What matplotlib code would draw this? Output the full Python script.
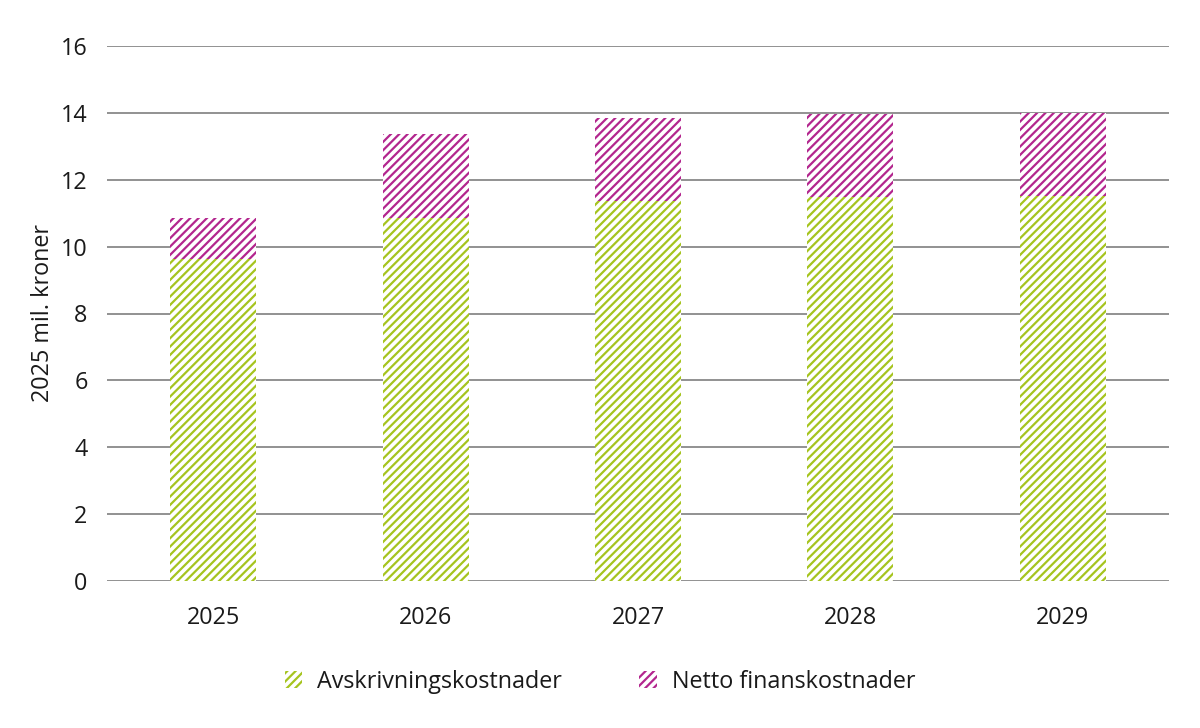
import matplotlib
matplotlib.use("Agg")
import matplotlib.pyplot as plt
import numpy as np

years = ["2025", "2026", "2027", "2028", "2029"]
avskrivning = [9.62, 10.87, 11.35, 11.48, 11.52]
netto_finans = [1.23, 2.49, 2.49, 2.50, 2.48]
series_labels = ["Avskrivningskostnader", "Netto finanskostnader"]
yticks = [0, 2, 4, 6, 8, 10, 12, 14, 16]

green = "#a6c41f"
magenta = "#b3268e"

plt.rcParams['font.family'] = ['Open Sans', 'DejaVu Sans']
plt.rcParams['hatch.linewidth'] = 1.6

fs = 16.8
fig = plt.figure(figsize=(12, 7.28), dpi=100)
ax = fig.add_axes([107/1200, 1-581/728, (1169-107)/1200, (581-46)/728])

x = np.arange(len(years))
w = 0.405
ax.bar(x, avskrivning, width=w, facecolor="white", edgecolor=green, hatch="////",
       linewidth=0, label=series_labels[0], zorder=3)
ax.bar(x, netto_finans, width=w, bottom=avskrivning, facecolor="white", edgecolor=magenta,
       hatch="////", linewidth=0, label=series_labels[1], zorder=3)

ax.set_xlim(-0.5, len(years) - 0.5)
ax.set_ylim(0, 16)
ax.set_yticks(yticks)
ax.set_yticklabels([str(t) for t in yticks])
ax.set_xticks(x)
ax.set_xticklabels(years)
ax.yaxis.grid(True, color="#7f7f7f", linewidth=1.2, zorder=1)
ax.set_axisbelow(True)
for s in ax.spines.values():
    s.set_visible(False)
ax.tick_params(axis="both", length=0, labelsize=fs, colors="#1a1a1a")
ax.tick_params(axis="y", pad=14)
ax.tick_params(axis="x", pad=18)
ax.set_ylabel("2025 mil. kroner", fontsize=fs, color="#1a1a1a", labelpad=4)

leg = fig.legend(loc="center", bbox_to_anchor=(0.5, 1-682/728), ncol=2, frameon=False,
                 fontsize=fs, handlelength=0.75, handleheight=0.75, handletextpad=0.65,
                 columnspacing=3.3)
for t in leg.get_texts():
    t.set_color("#1a1a1a")

fig.savefig("out.png", dpi=100)
